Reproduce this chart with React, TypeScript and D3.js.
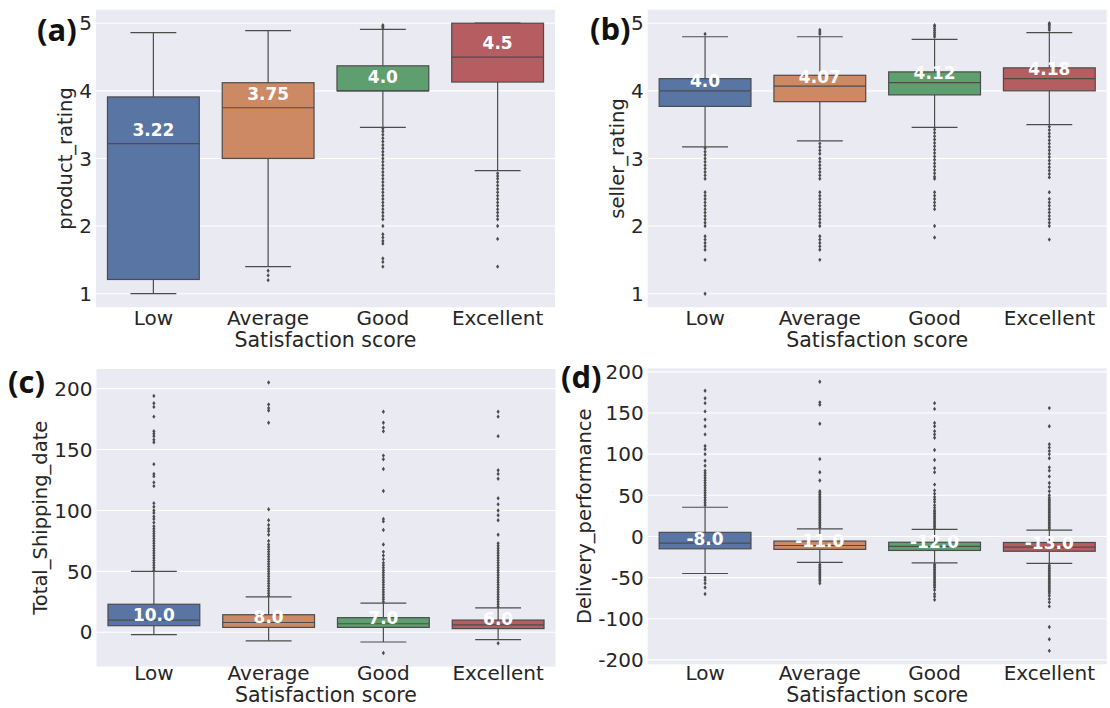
import React, { useEffect, useRef } from "react";
import * as d3 from "d3";

const W = 1110;
const H = 708;

const categories = ["Low", "Average", "Good", "Excellent"];
const boxColors = ["#5975a4", "#cc8963", "#5f9e6e", "#b55d60"];
const xTitle = "Satisfaction score";

// (a) product_rating
const productLo = [1.0, 1.4, 3.46, 2.82];
const productQ1 = [1.21, 3.0, 4.0, 4.13];
const productMed = [3.22, 3.75, 4.0, 4.5];
const productQ3 = [3.91, 4.12, 4.37, 5.0];
const productHi = [4.86, 4.89, 4.91, 5.0];
const productOutliers = [
  [],
  [1.34, 1.27, 1.2],
  [4.93, 4.95, 4.97, 3.44, 3.4, 3.35, 3.3, 3.25, 3.2, 3.15, 3.1, 3.05, 3.0, 2.95, 2.9, 2.85, 2.8, 2.75, 2.7, 2.65, 2.6, 2.55, 2.5, 2.45, 2.4, 2.35, 2.3, 2.25, 2.2, 2.15, 2.1, 2.0, 1.88, 1.83, 1.78, 1.74, 1.52, 1.47, 1.4],
  [2.78, 2.74, 2.7, 2.65, 2.6, 2.55, 2.5, 2.45, 2.4, 2.35, 2.3, 2.25, 2.2, 2.15, 2.1, 2.0, 1.81, 1.4],
];
const productTicks = [1, 2, 3, 4, 5];
const productTickLabels = ["1", "2", "3", "4", "5"];

// (b) seller_rating
const sellerLo = [3.17, 3.26, 3.46, 3.5];
const sellerQ1 = [3.77, 3.84, 3.94, 4.0];
const sellerMed = [4.0, 4.07, 4.12, 4.18];
const sellerQ3 = [4.18, 4.23, 4.28, 4.34];
const sellerHi = [4.8, 4.8, 4.76, 4.86];
const sellerOutliers = [
  [4.84, 3.15, 3.1, 3.05, 3.0, 2.95, 2.9, 2.85, 2.8, 2.75, 2.7, 2.5, 2.45, 2.4, 2.35, 2.3, 2.25, 2.2, 2.15, 2.1, 2.05, 2.0, 1.85, 1.8, 1.75, 1.7, 1.65, 1.5, 1.0],
  [4.84, 4.87, 4.9, 3.22, 3.17, 3.12, 3.07, 3.0, 2.95, 2.9, 2.85, 2.8, 2.75, 2.7, 2.5, 2.45, 2.4, 2.35, 2.3, 2.25, 2.2, 2.15, 2.1, 2.05, 2.0, 1.85, 1.8, 1.75, 1.7, 1.65, 1.5],
  [4.8, 4.83, 4.86, 4.89, 4.92, 4.95, 4.97, 3.43, 3.38, 3.33, 3.28, 3.23, 3.18, 3.13, 3.08, 3.03, 2.98, 2.93, 2.88, 2.83, 2.78, 2.73, 2.7, 2.5, 2.45, 2.4, 2.35, 2.3, 2.25, 2.0, 1.83],
  [4.9, 4.93, 4.96, 4.98, 5.0, 3.47, 3.42, 3.37, 3.32, 3.27, 3.22, 3.17, 3.12, 3.07, 3.02, 2.97, 2.92, 2.87, 2.82, 2.77, 2.72, 2.5, 2.4, 2.35, 2.3, 2.25, 2.2, 2.15, 2.1, 2.05, 2.0, 1.8],
];
const sellerTicks = [1, 2, 3, 4, 5];
const sellerTickLabels = ["1", "2", "3", "4", "5"];

// (c) Total_Shipping_date
const shippingLo = [-2, -7, -8, -6];
const shippingQ1 = [5.4, 4, 4, 3];
const shippingMed = [10, 8, 7, 6];
const shippingQ3 = [23, 14.4, 12, 10];
const shippingHi = [50, 29, 24, 20];
const shippingOutliers = [
  [51, 53, 55, 57, 59, 61, 63, 65, 67, 69, 71, 73, 75, 77, 79, 81, 83, 85, 87, 90, 93, 95, 98, 100, 103, 106, 120, 123, 128, 130, 138, 156, 158, 161, 163, 165, 177, 185, 188, 194],
  [30, 32, 34, 36, 38, 40, 42, 44, 46, 48, 50, 52, 54, 56, 58, 60, 62, 64, 66, 68, 70, 72, 75, 80, 83, 85, 88, 92, 101, 172, 182, 184, 187, 205],
  [25, 27, 29, 31, 33, 35, 37, 39, 41, 43, 45, 47, 49, 51, 53, 55, 57, 60, 63, 66, 72, 84, 91, 93, 116, 134, 142, 145, 165, 168, 172, 181, -17],
  [21, 23, 25, 27, 29, 31, 33, 35, 37, 39, 41, 43, 45, 47, 49, 51, 53, 55, 57, 59, 61, 63, 65, 67, 69, 71, 73, 80, 92, 96, 100, 105, 110, 126, 130, 133, 161, 177, 181, -9],
];
const shippingTicks = [0, 50, 100, 150, 200];
const shippingTickLabels = ["0", "50", "100", "150", "200"];

// (d) Delivery_performance
const deliveryLo = [-45, -31.5, -32, -32.7];
const deliveryQ1 = [-15, -15.7, -17, -18];
const deliveryMed = [-8, -11, -12, -13];
const deliveryQ3 = [5, -5.6, -7, -7.3];
const deliveryHi = [35.5, 9.3, 8.5, 7.7];
const deliveryOutliers = [
  [38, 41, 44, 47, 50, 53, 56, 59, 62, 65, 68, 71, 74, 77, 80, 86, 92, 100, 106, 110, 124, 134, 142, 152, 162, 168, 177, -50, -53, -57, -62, -70],
  [11, 13, 15, 17, 19, 21, 23, 25, 27, 29, 31, 33, 35, 37, 39, 41, 43, 45, 47, 49, 51, 53, 55, 68, 78, 94, 137, 160, 163, 188, -34, -36, -38, -40, -42, -44, -46, -48, -50, -52, -54, -57],
  [10, 12, 14, 16, 18, 20, 22, 24, 26, 28, 30, 32, 35, 38, 42, 45, 48, 52, 56, 63, 78, 83, 93, 105, 120, 124, 128, 134, 138, 155, 162, -34, -36, -38, -40, -42, -44, -46, -48, -50, -52, -54, -56, -58, -60, -62, -65, -70, -73, -77],
  [9, 11, 13, 15, 17, 19, 21, 23, 25, 27, 29, 31, 33, 35, 37, 39, 41, 43, 45, 47, 50, 55, 60, 65, 73, 80, 84, 95, 100, 104, 108, 112, 134, 156, -35, -37, -39, -41, -43, -45, -47, -49, -51, -53, -55, -57, -59, -61, -63, -65, -67, -69, -72, -76, -80, -85, -110, -125, -139],
];
const deliveryTicks = [-150, -100, -50, 0, 50, 100, 150, 200];
const deliveryTickLabels = ["-200", "-100", "-50", "0", "50", "100", "150", "200"];

const panels = [
  {
    tag: "(a)", ylabel: "product_rating", left: 96, top: 9.7, width: 459, height: 297.5,
    lo: productLo, q1: productQ1, med: productMed, q3: productQ3, hi: productHi, out: productOutliers,
    ticks: productTicks, tickLabels: productTickLabels, labelDy: -8, tagX: 37, tagY: 40.5,
    catDy: 17.5, titleDy: 39.5,
  },
  {
    tag: "(b)", ylabel: "seller_rating", left: 647.7, top: 9.7, width: 459, height: 297.5,
    lo: sellerLo, q1: sellerQ1, med: sellerMed, q3: sellerQ3, hi: sellerHi, out: sellerOutliers,
    ticks: sellerTicks, tickLabels: sellerTickLabels, labelDy: -3.5, tagX: 590, tagY: 40,
    catDy: 17.5, titleDy: 39.5,
  },
  {
    tag: "(c)", ylabel: "Total_Shipping_date", left: 96.5, top: 369, width: 459, height: 297.5,
    lo: shippingLo, q1: shippingQ1, med: shippingMed, q3: shippingQ3, hi: shippingHi, out: shippingOutliers,
    ticks: shippingTicks, tickLabels: shippingTickLabels, labelDy: 0.5, tagX: 8, tagY: 393,
    catDy: 13.5, titleDy: 35.5,
  },
  {
    tag: "(d)", ylabel: "Delivery_performance", left: 647.7, top: 368.3, width: 459, height: 296,
    lo: deliveryLo, q1: deliveryQ1, med: deliveryMed, q3: deliveryQ3, hi: deliveryHi, out: deliveryOutliers,
    ticks: deliveryTicks, tickLabels: deliveryTickLabels, labelDy: 1.5, tagX: 561, tagY: 388,
    catDy: 15.5, titleDy: 37.5,
  },
];

const GRAY = "#4c4c4c";
const TEXT = "#262626";
const FONT = "DejaVu Sans";

const fmt = (v: number) => (Number.isInteger(v) ? v.toFixed(1) : String(v));

export default function App() {
  const ref = useRef<SVGSVGElement>(null);

  useEffect(() => {
    const svg = d3.select(ref.current);
    svg.selectAll("*").remove();
    svg.append("rect").attr("width", W).attr("height", H).attr("fill", "#ffffff");

    panels.forEach((p) => {
      const g = svg.append("g");
      const all = [...p.lo, ...p.hi, ...p.out.flat()];
      const mn = d3.min(all) as number;
      const mx = d3.max(all) as number;
      const pad = (mx - mn) * 0.05;
      const y = d3.scaleLinear().domain([mn - pad, mx + pad]).range([p.top + p.height, p.top]);
      const x = d3
        .scaleBand()
        .domain(categories)
        .range([p.left, p.left + p.width])
        .paddingInner(0.2)
        .paddingOuter(0.1);
      const bw = x.bandwidth();

      g.append("rect")
        .attr("x", p.left).attr("y", p.top)
        .attr("width", p.width).attr("height", p.height)
        .attr("fill", "#eaeaf2");

      g.selectAll("line.grid")
        .data(p.ticks)
        .join("line")
        .attr("class", "grid")
        .attr("x1", p.left).attr("x2", p.left + p.width)
        .attr("y1", (t) => y(t)).attr("y2", (t) => y(t))
        .attr("stroke", "#ffffff").attr("stroke-width", 1.1);

      const tickTexts = g.selectAll("text.tick")
        .data(p.ticks)
        .join("text")
        .attr("class", "tick")
        .attr("x", p.left - 4)
        .attr("y", (t) => y(t))
        .attr("dy", "0.36em")
        .attr("text-anchor", "end")
        .attr("font-family", FONT)
        .attr("font-size", 20)
        .attr("fill", TEXT)
        .text((_, i) => p.tickLabels[i]);

      let maxW = 0;
      tickTexts.each(function () {
        const w = (this as SVGTextElement).getComputedTextLength();
        if (w > maxW) maxW = w;
      });

      const cy = p.top + p.height / 2;
      const tx = p.left - 4 - maxW - 13.5;
      g.append("text")
        .attr("transform", `translate(${tx},${cy}) rotate(-90)`)
        .attr("text-anchor", "middle")
        .attr("dominant-baseline", "central")
        .attr("font-family", FONT)
        .attr("font-size", 19.5)
        .attr("fill", TEXT)
        .text(p.ylabel);

      categories.forEach((c, i) => {
        const x0 = x(c) as number;
        const cx = x0 + bw / 2;
        // whiskers
        g.append("line")
          .attr("x1", cx).attr("x2", cx)
          .attr("y1", y(p.q3[i])).attr("y2", y(p.hi[i]))
          .attr("stroke", GRAY).attr("stroke-width", 1.2);
        g.append("line")
          .attr("x1", cx).attr("x2", cx)
          .attr("y1", y(p.q1[i])).attr("y2", y(p.lo[i]))
          .attr("stroke", GRAY).attr("stroke-width", 1.2);
        [p.hi[i], p.lo[i]].forEach((v) => {
          g.append("line")
            .attr("x1", cx - bw / 4).attr("x2", cx + bw / 4)
            .attr("y1", y(v)).attr("y2", y(v))
            .attr("stroke", GRAY).attr("stroke-width", 1.2);
        });
        // box
        g.append("rect")
          .attr("x", x0).attr("y", y(p.q3[i]))
          .attr("width", bw).attr("height", y(p.q1[i]) - y(p.q3[i]))
          .attr("fill", boxColors[i])
          .attr("stroke", GRAY).attr("stroke-width", 1.2);
        // median
        g.append("line")
          .attr("x1", x0).attr("x2", x0 + bw)
          .attr("y1", y(p.med[i])).attr("y2", y(p.med[i]))
          .attr("stroke", GRAY).attr("stroke-width", 1.2);
        // outliers
        g.selectAll(null)
          .data(p.out[i])
          .join("path")
          .attr("d", (v) => {
            const yy = y(v);
            return `M${cx},${yy - 2.2}L${cx + 1.6},${yy}L${cx},${yy + 2.2}L${cx - 1.6},${yy}Z`;
          })
          .attr("fill", GRAY);
        // median label
        g.append("text")
          .attr("x", cx)
          .attr("y", y(p.med[i]) + p.labelDy)
          .attr("text-anchor", "middle")
          .attr("font-family", FONT)
          .attr("font-weight", "bold")
          .attr("font-size", 17)
          .attr("fill", "#ffffff")
          .text(fmt(p.med[i]));
        // category label
        g.append("text")
          .attr("x", cx)
          .attr("y", p.top + p.height + p.catDy)
          .attr("text-anchor", "middle")
          .attr("font-family", FONT)
          .attr("font-size", 20)
          .attr("fill", TEXT)
          .text(c);
      });

      g.append("text")
        .attr("x", p.left + p.width / 2)
        .attr("y", p.top + p.height + p.titleDy)
        .attr("text-anchor", "middle")
        .attr("font-family", FONT)
        .attr("font-size", 20.5)
        .attr("fill", TEXT)
        .text(xTitle);

      g.append("text")
        .attr("x", p.tagX)
        .attr("y", p.tagY)
        .attr("font-family", "Open Sans")
        .attr("font-weight", 700)
        .attr("font-size", 31)
        .attr("fill", "#111111")
        .text(p.tag);
    });
  }, []);

  return (
    <svg
      ref={ref}
      width={W}
      height={H}
      style={{ position: "absolute", left: 0, top: 0, display: "block" }}
    />
  );
}
